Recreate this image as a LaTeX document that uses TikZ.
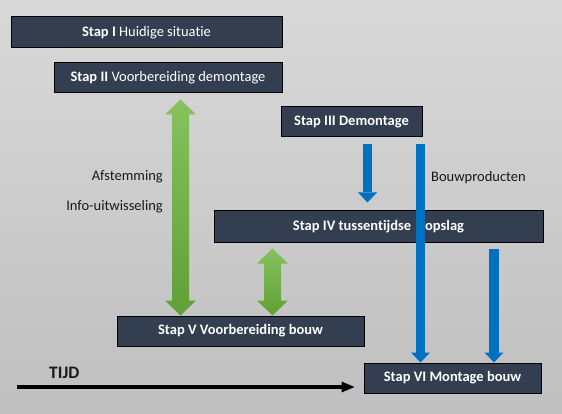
\documentclass[tikz,border=0pt]{standalone}
\usepackage{fontspec}
\setmainfont{Carlito}[Ligatures=CommonOff]
\usetikzlibrary{arrows.meta,calc}

\definecolor{boxfill}{RGB}{51,63,80}
\definecolor{bgtop}{RGB}{217,217,217}
\definecolor{bgbot}{RGB}{191,191,191}
\definecolor{flowblue}{RGB}{0,112,192}
\definecolor{greentop}{RGB}{134,194,94}
\definecolor{greenbot}{RGB}{96,160,54}

\tikzset{
	stapbox/.style={draw=black, fill=boxfill, text=white, line width=1pt, inner sep=0pt, font=\fontsize{14.5}{17}\selectfont},
	remark/.style={text=black!90, inner sep=0pt, font=\fontsize{14.5}{17}\selectfont},
	flowarrow/.style={flowblue, line width=9.5pt, -{Triangle[length=10pt,width=19pt,line width=0pt]}},
	infoarrow/.style={top color=greentop, bottom color=greenbot, to path={
		-- ($(\tikztostart)+(15.5pt,-15pt)$) -- ($(\tikztostart)+(8.5pt,-15pt)$)
		-- ($(\tikztotarget)+(8.5pt,15pt)$) -- ($(\tikztotarget)+(15.5pt,15pt)$)
		-- (\tikztotarget) -- ($(\tikztotarget)+(-15.5pt,15pt)$) -- ($(\tikztotarget)+(-8.5pt,15pt)$)
		-- ($(\tikztostart)+(-8.5pt,-15pt)$) -- ($(\tikztostart)+(-15.5pt,-15pt)$) -- cycle}},
}

\begin{document}
\begin{tikzpicture}[x=1pt, y=-1pt]
	\shade[top color=bgtop, bottom color=bgbot] (0,0) rectangle (562,414);
	\useasboundingbox (0,0) rectangle (562,414);

	% stappen
	\node[stapbox, minimum width=271pt, minimum height=31pt] (s1) at (146.5,32.5) {\textbf{Stap I} Huidige situatie};
	\node[stapbox, minimum width=228pt, minimum height=30pt] (s2) at (168,78) {\textbf{Stap II} Voorbereiding demontage};
	\node[stapbox, minimum width=141pt, minimum height=30pt] (s3) at (351.5,122) {\textbf{Stap III Demontage}};
	\node[stapbox, minimum width=329pt, minimum height=31pt] (s4) at (378.5,226.5) {\textbf{Stap IV tussentijdse\hspace{14pt}opslag}};
	\node[stapbox, minimum width=247pt, minimum height=30pt] (s5) at (240.5,331) {\textbf{Stap V Voorbereiding bouw}};
	\node[stapbox, minimum width=177pt, minimum height=30pt] (s6) at (452.5,378) {\textbf{Stap VI Montage bouw}};

	% labels
	\node[remark, anchor=east] (afst) at (163,177) {Afstemming};
	\node[remark, anchor=east] (info) at (163,207) {Info-uitwisseling};
	\node[remark, anchor=west] (bouwp) at (431,178) {Bouwproducten};
	\node[remark, anchor=west, font=\bfseries\fontsize{17.5}{20}\selectfont] (tijd) at (49,372.5) {TIJD};

	% afstemming (groen)
	\coordinate (gx1) at (180.5,0);
	\coordinate (gx2) at (272.5,0);
	\shade[infoarrow] ($(s2.south -| gx1)+(0,6)$) to (s5.north -| gx1);
	\shade[infoarrow] ($(s4.south -| gx2)+(0,6)$) to (s5.north -| gx2);

	% bouwproducten (blauw)
	\coordinate (bx1) at (367.5,0);
	\coordinate (bx2) at (420.5,0);
	\coordinate (bx3) at (494,0);
	\draw[flowarrow, shorten <=7pt, shorten >=8pt] (s3.south -| bx1) -- (s4.north -| bx1);
	\draw[flowarrow, shorten <=7pt] (s3.south -| bx2) -- (s6.north -| bx2);
	\draw[flowarrow, shorten <=6pt] (s4.south -| bx3) -- (s6.north -| bx3);

	% tijdlijn
	\coordinate (t0) at (17,387);
	\draw[line width=4pt, shorten >=9pt, -{Triangle[length=13pt,width=11pt,line width=0pt]}] (t0) -- (t0 -| s6.west);
\end{tikzpicture}
\end{document}
